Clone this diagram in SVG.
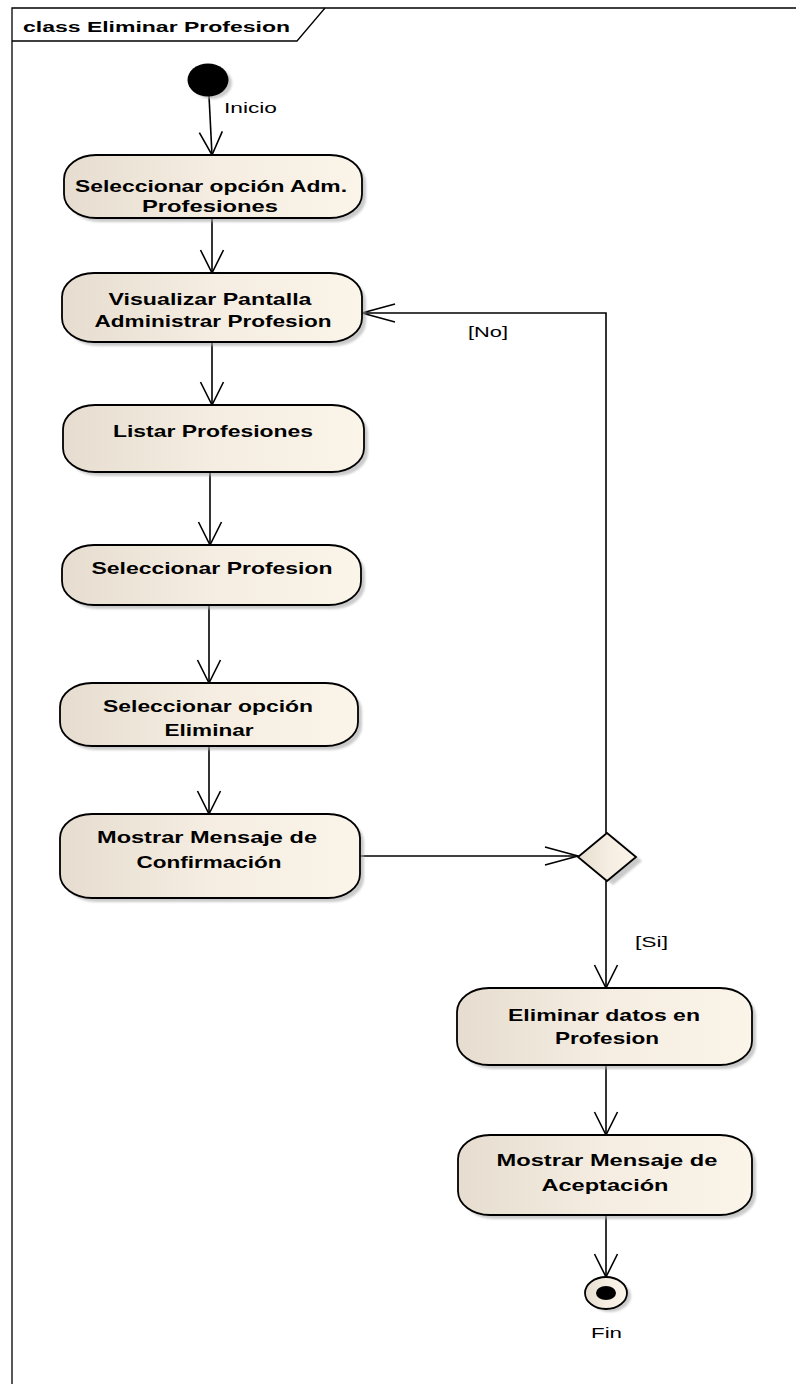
<svg xmlns="http://www.w3.org/2000/svg" width="796" height="1384" viewBox="0 0 796 1384">
  <defs>
    <linearGradient id="fillGrad" x1="0" y1="0" x2="1" y2="0">
      <stop offset="0" stop-color="#E6DDD0"/>
      <stop offset="0.5" stop-color="#F5EDE1"/>
      <stop offset="1" stop-color="#FBF4E9"/>
    </linearGradient>
    <filter id="shadow" x="-10%" y="-10%" width="130%" height="140%">
      <feGaussianBlur stdDeviation="1.2"/>
    </filter>
    <!-- open V arrowheads: vertical runs and horizontal runs -->
    <marker id="arrV" markerUnits="userSpaceOnUse" markerWidth="30" markerHeight="30" refX="24" refY="12" orient="auto" overflow="visible">
      <path d="M1,0.5 L24,12 L1,23.5" fill="none" stroke="#000" stroke-width="1.6"/>
    </marker>
    <marker id="arrH" markerUnits="userSpaceOnUse" markerWidth="40" markerHeight="24" refX="34" refY="10" orient="auto" overflow="visible">
      <path d="M1,1 L34,10 L1,19" fill="none" stroke="#000" stroke-width="1.6"/>
    </marker>
  </defs>
  <style>
    .frame { fill: none; stroke: #000; stroke-width: 1.3; }
    .node { fill: url(#fillGrad); stroke: #000; stroke-width: 1.8; }
    .shd { fill: #a8a8a8; opacity: 0.6; filter: url(#shadow); }
    .edge { fill: none; stroke: #000; stroke-width: 1.6; }
    .lbl { font-family: "Liberation Sans", Arial, sans-serif; font-weight: bold; font-size: 16.5px; fill: #000; text-anchor: middle; }
    .title { font-family: "Liberation Sans", Arial, sans-serif; font-weight: bold; font-size: 14.5px; fill: #000; }
    .note { font-family: "Liberation Sans", Arial, sans-serif; font-size: 15px; fill: #000; }
  </style>

  <!-- diagram frame with name tab -->
  <g id="frame">
    <path class="frame" d="M12,1384 V8 H796"/>
    <path class="frame" d="M12,41 H297 L325,8"/>
    <text class="title" x="23" y="32" textLength="267" lengthAdjust="spacingAndGlyphs">class Eliminar Profesion</text>
  </g>

  <!-- connectors -->
  <g id="edges">
    <path class="edge" d="M209,96 L212,155" marker-end="url(#arrV)"/>
    <text class="note" x="224" y="113" textLength="53" lengthAdjust="spacingAndGlyphs">Inicio</text>
    <path class="edge" d="M212,218 V273" marker-end="url(#arrV)"/>
    <path class="edge" d="M212,342 V405" marker-end="url(#arrV)"/>
    <path class="edge" d="M210,472 V545" marker-end="url(#arrV)"/>
    <path class="edge" d="M209,605 V683" marker-end="url(#arrV)"/>
    <path class="edge" d="M209,746 V814" marker-end="url(#arrV)"/>
    <path class="edge" d="M360,856 H578" marker-end="url(#arrH)"/>
    <path class="edge" d="M606,833 V313 H362" marker-end="url(#arrH)"/>
    <text class="note" x="468" y="337" textLength="40" lengthAdjust="spacingAndGlyphs">[No]</text>
    <path class="edge" d="M606,881 V988" marker-end="url(#arrV)"/>
    <text class="note" x="635" y="947" textLength="33" lengthAdjust="spacingAndGlyphs">[Si]</text>
    <path class="edge" d="M606,1065 V1135" marker-end="url(#arrV)"/>
    <path class="edge" d="M606,1215 V1277" marker-end="url(#arrV)"/>
  </g>

  <!-- initial node -->
  <g id="inicio">
    <ellipse class="shd" cx="212" cy="83" rx="20" ry="16"/>
    <ellipse cx="208" cy="80" rx="20.5" ry="16.5" fill="#000"/>
  </g>

  <g id="n1">
    <rect class="shd" x="68" y="159" width="298" height="63" rx="32" ry="24"/>
    <rect class="node" x="64" y="155" width="298" height="63" rx="32" ry="24"/>
    <text class="lbl" x="211" y="192" textLength="272" lengthAdjust="spacingAndGlyphs">Seleccionar opción Adm.</text>
    <text class="lbl" x="210" y="212" textLength="136" lengthAdjust="spacingAndGlyphs">Profesiones</text>
  </g>

  <g id="n2">
    <rect class="shd" x="66" y="277" width="300" height="69" rx="32" ry="24"/>
    <rect class="node" x="62" y="273" width="300" height="69" rx="32" ry="24"/>
    <text class="lbl" x="210" y="305" textLength="203" lengthAdjust="spacingAndGlyphs">Visualizar Pantalla</text>
    <text class="lbl" x="213" y="327" textLength="237" lengthAdjust="spacingAndGlyphs">Administrar Profesion</text>
  </g>

  <g id="n3">
    <rect class="shd" x="67" y="409" width="301" height="67" rx="32" ry="24"/>
    <rect class="node" x="63" y="405" width="301" height="67" rx="32" ry="24"/>
    <text class="lbl" x="213" y="437" textLength="200" lengthAdjust="spacingAndGlyphs">Listar Profesiones</text>
  </g>

  <g id="n4">
    <rect class="shd" x="66" y="549" width="299" height="60" rx="32" ry="24"/>
    <rect class="node" x="62" y="545" width="299" height="60" rx="32" ry="24"/>
    <text class="lbl" x="212" y="574" textLength="241" lengthAdjust="spacingAndGlyphs">Seleccionar Profesion</text>
  </g>

  <g id="n5">
    <rect class="shd" x="64" y="687" width="298" height="63" rx="32" ry="24"/>
    <rect class="node" x="60" y="683" width="298" height="63" rx="32" ry="24"/>
    <text class="lbl" x="208" y="712" textLength="210" lengthAdjust="spacingAndGlyphs">Seleccionar opción</text>
    <text class="lbl" x="209" y="736" textLength="89" lengthAdjust="spacingAndGlyphs">Eliminar</text>
  </g>

  <g id="n6">
    <rect class="shd" x="64" y="818" width="300" height="84" rx="32" ry="24"/>
    <rect class="node" x="60" y="814" width="300" height="84" rx="32" ry="24"/>
    <text class="lbl" x="207" y="843" textLength="220" lengthAdjust="spacingAndGlyphs">Mostrar Mensaje de</text>
    <text class="lbl" x="209" y="868" textLength="145" lengthAdjust="spacingAndGlyphs">Confirmación</text>
  </g>

  <!-- decision -->
  <g id="decision">
    <path class="shd" d="M613,837 L642,861 L613,885 L584,861 Z"/>
    <path class="node" d="M607,833 L636,857 L607,881 L578,857 Z"/>
  </g>

  <g id="n7">
    <rect class="shd" x="461" y="992" width="295" height="77" rx="32" ry="24"/>
    <rect class="node" x="457" y="988" width="295" height="77" rx="32" ry="24"/>
    <text class="lbl" x="604" y="1021" textLength="192" lengthAdjust="spacingAndGlyphs">Eliminar datos en</text>
    <text class="lbl" x="607" y="1044" textLength="104" lengthAdjust="spacingAndGlyphs">Profesion</text>
  </g>

  <g id="n8">
    <rect class="shd" x="462" y="1139" width="294" height="80" rx="32" ry="24"/>
    <rect class="node" x="458" y="1135" width="294" height="80" rx="32" ry="24"/>
    <text class="lbl" x="607" y="1166" textLength="221" lengthAdjust="spacingAndGlyphs">Mostrar Mensaje de</text>
    <text class="lbl" x="605" y="1191" textLength="127" lengthAdjust="spacingAndGlyphs">Aceptación</text>
  </g>

  <!-- final node -->
  <g id="fin">
    <ellipse class="shd" cx="610" cy="1296" rx="21" ry="16"/>
    <ellipse class="node" cx="606" cy="1293" rx="21" ry="16"/>
    <ellipse cx="606" cy="1293" rx="10" ry="7" fill="#000"/>
    <text class="note" x="591" y="1338" textLength="31" lengthAdjust="spacingAndGlyphs">Fin</text>
  </g>
</svg>
